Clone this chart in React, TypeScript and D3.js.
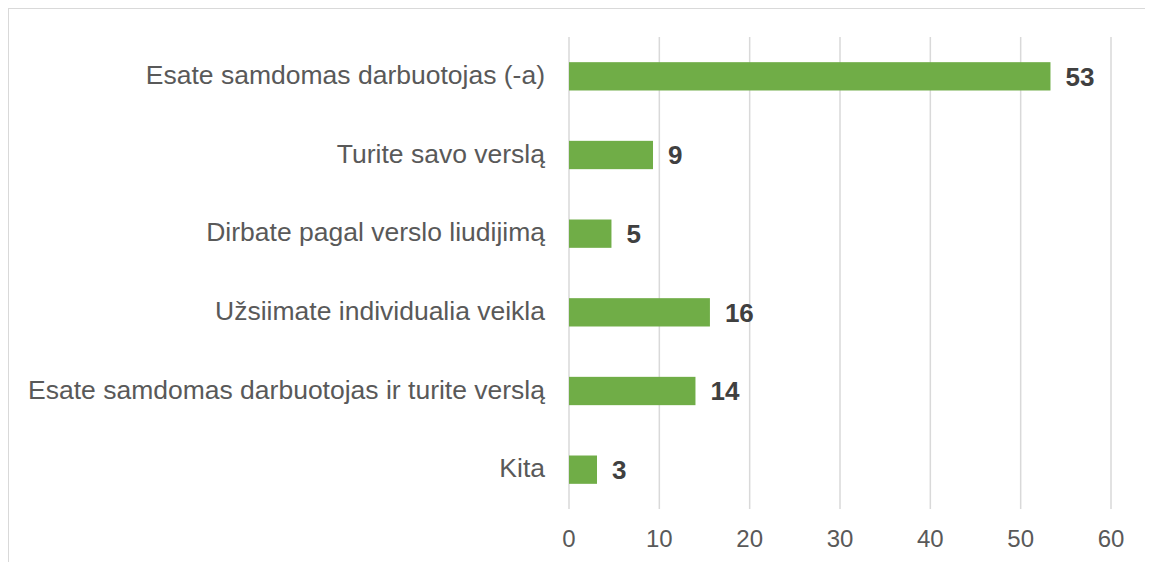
import React from 'react';
import * as d3 from 'd3';

const categories = [
  'Esate samdomas darbuotojas (-a)',
  'Turite savo verslą',
  'Dirbate pagal verslo liudijimą',
  'Užsiimate individualia veikla',
  'Esate samdomas darbuotojas ir turite verslą',
  'Kita',
];
const values = [53.3, 9.3, 4.7, 15.6, 14.0, 3.1];
const ticks = [0, 10, 20, 30, 40, 50, 60];

const W = 1145;
const H = 554;
const margin = { top: 29, right: 42, bottom: 53, left: 561 };

const App = () => {
  const x = d3.scaleLinear().domain([0, 60]).range([margin.left, W - margin.right]);
  const y = d3.scaleBand().domain(categories).range([margin.top, H - margin.bottom]).paddingInner(0.64).paddingOuter(0.32);
  const font = '"Liberation Sans", Arial, sans-serif';

  return (
    <svg width={W} height={H} style={{ display: 'block' }} fontFamily={font}>
      <rect x={0.5} y={0.5} width={W - 1} height={H + 20} fill="#fff" stroke="#d9d9d9" />
      {ticks.map(t => (
        <g key={t}>
          <line x1={x(t)} x2={x(t)} y1={margin.top} y2={H - margin.bottom} stroke="#d9d9d9" strokeWidth={1.5} />
          <text x={x(t)} y={H - 15} textAnchor="middle" fontSize={24} fill="#595959">{t}</text>
        </g>
      ))}
      {categories.map((c, i) => {
        const yy = y(c) as number;
        const bh = y.bandwidth();
        return (
          <g key={c}>
            <rect x={x(0)} y={yy} width={x(values[i]) - x(0)} height={bh} fill="#70ad47" />
            <text x={x(0) - 24} y={yy + bh / 2} dy="0.29em" textAnchor="end" fontSize={26.5} fill="#595959">{c}</text>
            <text x={x(values[i]) + 15} y={yy + bh / 2} dy="0.36em" fontSize={26} fontWeight="bold" fill="#404040">{Math.round(values[i])}</text>
          </g>
        );
      })}
    </svg>
  );
};

export default App;
